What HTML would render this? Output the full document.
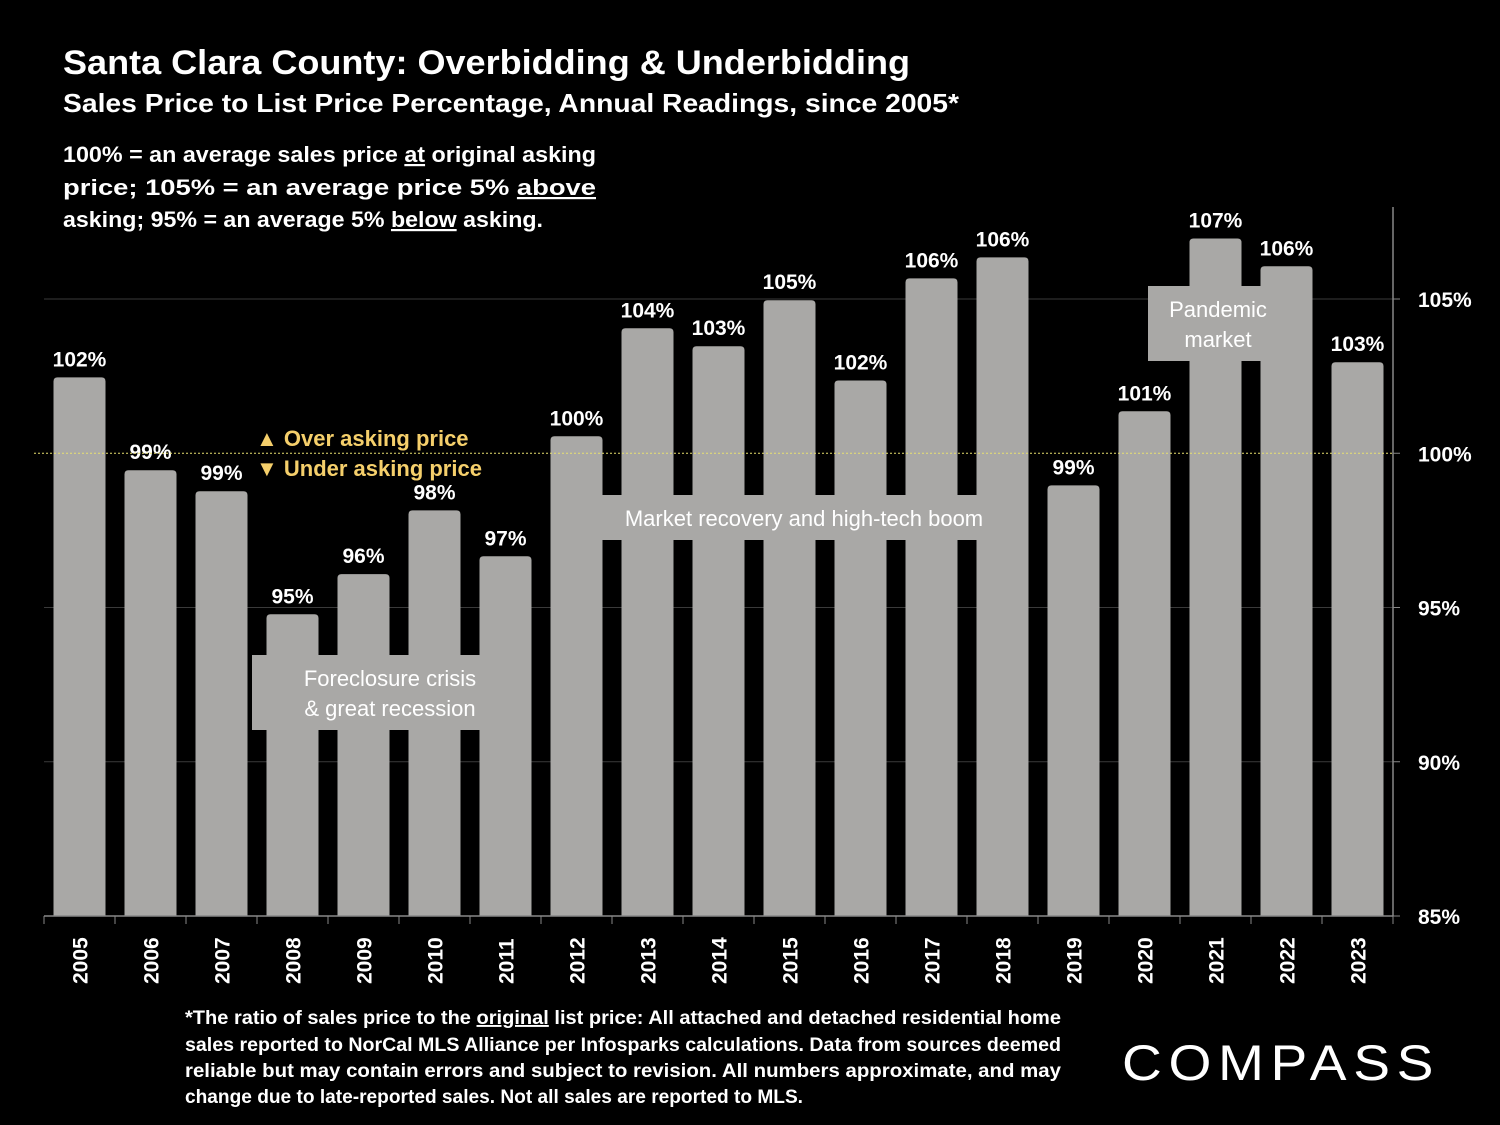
<!DOCTYPE html>
<html><head><meta charset="utf-8"><style>
html,body{margin:0;padding:0;background:#000;}
svg{display:block;font-family:"Liberation Sans",sans-serif;}
</style></head><body>
<svg id="chart" width="1500" height="1125" viewBox="0 0 1500 1125" xmlns="http://www.w3.org/2000/svg">
<rect width="1500" height="1125" fill="#000"/>
<text x="63" y="74" fill="#fff" font-size="34" font-weight="bold" textLength="847" lengthAdjust="spacingAndGlyphs">Santa Clara County: Overbidding &amp; Underbidding</text>
<text x="63" y="112" fill="#fff" font-size="26" font-weight="bold" textLength="896" lengthAdjust="spacingAndGlyphs">Sales Price to List Price Percentage, Annual Readings, since 2005*</text>
<g fill="#fff" font-size="22" font-weight="bold">
<text x="63" y="162" textLength="533" lengthAdjust="spacingAndGlyphs">100% = an average sales price <tspan text-decoration="underline">at</tspan> original asking</text>
<text x="63" y="195" textLength="533" lengthAdjust="spacingAndGlyphs">price;  105%  =  an  average  price  5%  <tspan text-decoration="underline">above</tspan></text>
<text x="63" y="227" textLength="480" lengthAdjust="spacingAndGlyphs">asking; 95% = an average 5% <tspan text-decoration="underline">below</tspan> asking.</text>
</g>
<g id="grid"></g>
<g id="bars"></g>
<g id="labels"></g>
<g id="axes"></g>
<line id="par" x1="34" x2="1393" stroke="#e8e070" stroke-width="1" stroke-dasharray="2,2"/>
<g fill="#f5cf6b" font-size="22" font-weight="bold">
<text x="256" y="446">▲ Over asking price</text>
<text x="256" y="476">▼ Under asking price</text>
</g>
<g>
<rect x="252" y="655" width="228" height="75" fill="#a9a8a6"/>
<text x="390" y="686" fill="#fff" font-size="22" text-anchor="middle">Foreclosure crisis</text>
<text x="390" y="716" fill="#fff" font-size="22" text-anchor="middle">&amp; great recession</text>
</g>
<g>
<rect x="600" y="495" width="408" height="45" fill="#a9a8a6"/>
<text x="804" y="526" fill="#fff" font-size="22" text-anchor="middle">Market recovery and high-tech boom</text>
</g>
<g>
<rect x="1148" y="286" width="140" height="75" fill="#a9a8a6"/>
<text x="1218" y="317" fill="#fff" font-size="22" text-anchor="middle">Pandemic</text>
<text x="1218" y="347" fill="#fff" font-size="22" text-anchor="middle">market</text>
</g>
<g fill="#fff" font-size="19" font-weight="bold">
<text x="185" y="1024" textLength="876" lengthAdjust="spacingAndGlyphs">*The ratio of sales price to the <tspan text-decoration="underline">original</tspan> list price: All attached and detached residential home</text>
<text x="185" y="1051" textLength="876" lengthAdjust="spacingAndGlyphs">sales reported to NorCal MLS Alliance per Infosparks calculations. Data from sources deemed</text>
<text x="185" y="1077" textLength="876" lengthAdjust="spacingAndGlyphs">reliable but may contain errors and subject to revision. All numbers approximate, and may</text>
<text x="185" y="1103" textLength="618" lengthAdjust="spacingAndGlyphs">change due to late-reported sales. Not all sales are reported to MLS.</text>
</g>
<text x="1122" y="1080" fill="#fff" font-size="50" textLength="318" lengthAdjust="spacingAndGlyphs" letter-spacing="6">COMPASS</text>
</svg>
<script>
const years=["2005","2006","2007","2008","2009","2010","2011","2012","2013","2014","2015","2016","2017","2018","2019","2020","2021","2022","2023"];
const values=[102.46,99.45,98.77,94.78,96.08,98.15,96.66,100.55,104.05,103.47,104.96,102.36,105.67,106.35,98.96,101.36,106.96,106.06,102.95];
const valueLabels=["102%","99%","99%","95%","96%","98%","97%","100%","104%","103%","105%","102%","106%","106%","99%","101%","107%","106%","103%"];
const yTicks=[85,90,95,100,105];
const yTickLabels=["85%","90%","95%","100%","105%"];
const NS="http://www.w3.org/2000/svg";
const L=44,R=1393,yMin=85,yMax=105,pxMin=916,pxMax=299;
const y=v=>pxMin-(v-yMin)*(pxMin-pxMax)/(yMax-yMin);
const step=(R-L)/years.length;
const xc=i=>L+step*(i+0.5);
function mk(t,a,p){const e=document.createElementNS(NS,t);for(const k in a)e.setAttribute(k,a[k]);p.appendChild(e);return e;}
document.getElementById('par').setAttribute('y1',y(100));
document.getElementById('par').setAttribute('y2',y(100));
const grid=document.getElementById('grid'),bars=document.getElementById('bars'),labels=document.getElementById('labels'),axes=document.getElementById('axes');
yTicks.forEach((t,i)=>{
  if(t!==85&&t!==100){const g=mk('line',{x1:L,x2:R,y1:y(t),y2:y(t),stroke:'#3a3a3a','stroke-width':1},grid);
  
  }
  const tk=mk('line',{x1:R,x2:R+7,y1:y(t),y2:y(t),stroke:'#888'},axes);
  
  
  const tx=mk('text',{x:1418,y:y(t)+8,fill:'#fff','font-size':21,'font-weight':'bold'},axes);
  tx.textContent=yTickLabels[i];
  
  
});
const bw=52;
values.forEach((v,i)=>{
  const top=y(v),h=pxMin-top;
  const p=mk('path',{d:`M${xc(i)-bw/2},${pxMin} V${top+4} Q${xc(i)-bw/2},${top} ${xc(i)-bw/2+4},${top} H${xc(i)+bw/2-4} Q${xc(i)+bw/2},${top} ${xc(i)+bw/2},${top+4} V${pxMin} Z`,fill:'#a9a8a6'},bars);
  
  
  const t=mk('text',{x:xc(i),y:top-11,fill:'#fff','font-size':21,'font-weight':'bold','text-anchor':'middle'},labels);
  t.textContent=valueLabels[i];
  
  
  const xt=mk('text',{transform:`translate(${xc(i)+8},${984}) rotate(-90)`,fill:'#fff','font-size':21,'font-weight':'bold'},axes);
  xt.textContent=years[i];
  
  
});
for(let i=0;i<=years.length;i++){
  const tk=mk('line',{x1:L+step*i,x2:L+step*i,y1:pxMin,y2:pxMin+8,stroke:'#888'},axes);
  
  
}
const xa=mk('line',{x1:L,x2:R,y1:pxMin,y2:pxMin,stroke:'#888','stroke-width':1.5},axes);


const ya=mk('line',{x1:R,x2:R,y1:207,y2:pxMin,stroke:'#888','stroke-width':1.5},axes);


</script>
</body></html>
